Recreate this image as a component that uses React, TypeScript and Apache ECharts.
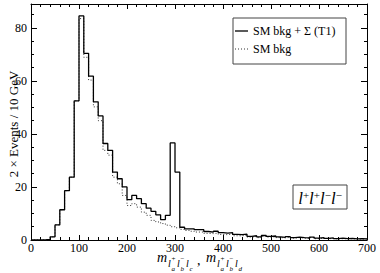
import React, { useEffect, useRef } from "react";
import * as echarts from "echarts";

const BIN_WIDTH = 10;
const X_MAX = 700;
const Y_MAX = 89;

// SM bkg + Σ (T1), bins of 10 GeV starting at 0
const sigPlusBkg = [
  0, 0, 0, 0.2, 1.2, 5.7, 11.4, 18.6, 23.7, 52.5,
  84.5, 70.4, 61.8, 52.1, 46.8, 36.4, 33.8, 25.6, 23.1, 20.0,
  15.2, 16.8, 15.6, 13.7, 12.0, 10.8, 9.5, 7.7, 9.3, 36.6,
  25.6, 4.8, 4.2, 4.2, 3.9, 3.9, 3.2, 3.0, 3.3, 2.8,
  2.6, 2.8, 2.1, 2.0, 2.2, 1.4, 1.6, 1.2, 1.7, 1.4,
  1.5, 1.2, 1.0, 1.3, 0.9, 1.1, 0.9, 0.8, 1.1, 0.7,
  0.9, 0.6, 0.8, 0.5, 0.7, 0.5, 0.6, 0.4, 0.5, 0.4,
];

// SM bkg only
const smBkg = [
  0, 0, 0, 0.2, 1.2, 5.7, 11.4, 18.6, 23.7, 52.5,
  83.5, 68.9, 60.3, 50.2, 45.0, 33.8, 32.0, 23.7, 21.2, 16.8,
  13.0, 13.7, 12.4, 10.5, 9.3, 7.4, 6.8, 6.2, 5.6, 5.0,
  4.6, 4.0, 3.6, 3.3, 3.0, 3.0, 2.5, 2.4, 2.6, 2.1,
  2.0, 2.2, 1.6, 1.6, 1.8, 1.1, 1.3, 0.9, 1.4, 1.1,
  1.2, 0.9, 0.8, 1.0, 0.7, 0.9, 0.7, 0.6, 0.9, 0.5,
  0.7, 0.5, 0.6, 0.4, 0.5, 0.4, 0.5, 0.3, 0.4, 0.3,
];

const seriesNames = ["SM bkg + Σ (T1)", "SM bkg"];
const yAxisTitle = "2 × Events / 10 GeV";

const FONT = "'Liberation Serif', 'DejaVu Serif', serif";

const SOLID_STYLE = { color: "#000", width: 1.3 };
const DOTTED_STYLE = { color: "#333", width: 1, type: [1, 2] as number[] };

function toSteps(values: number[]) {
  const pts: [number, number][] = values.map((v, i) => [i * BIN_WIDTH, v]);
  pts.push([values.length * BIN_WIDTH, values[values.length - 1]]);
  return pts;
}

export default function App() {
  const ref = useRef<HTMLDivElement>(null);
  useEffect(() => {
    document.body.style.margin = "0";
    const chart = echarts.init(ref.current!, null, { renderer: "svg" });

    const tickCommon = {
      axisLine: { show: true, onZero: false, lineStyle: { color: "#000", width: 1 } },
      splitLine: { show: false },
    };

    const it = (x: number, y: number, text: string, size: number, italic = true) => ({
      type: "text",
      x,
      y,
      silent: true,
      style: {
        text,
        font: `${italic ? "italic " : ""}${size}px ${FONT}`,
        fill: "#000",
        textAlign: "left",
        textVerticalAlign: "middle",
      },
    });

    // one "l" with optional super/subscript, used to build the x-axis title
    const lep = (x: number, sup: string | null, sub: string) => {
      const parts: any[] = [it(x, 263.5, "l", 10)];
      if (sup) parts.push(it(x + 3.6, 258.5, sup, 7, false));
      parts.push(it(x + 3.6, 269, sub, 7));
      return parts;
    };

    const option: any = {
      animation: false,
      backgroundColor: "#fff",
      grid: { left: 31, right: 13, top: 4, bottom: 33, containLabel: false },
      legend: { show: false },
      xAxis: [
        {
          type: "value",
          position: "bottom",
          min: 0,
          max: X_MAX,
          interval: 100,
          ...tickCommon,
          axisTick: { show: true, inside: true, length: 5, lineStyle: { color: "#000" } },
          minorTick: { show: true, splitNumber: 5, length: 3, lineStyle: { color: "#000" } },
          axisLabel: { color: "#000", fontFamily: FONT, fontSize: 12, margin: 2 },
        },
        {
          type: "value",
          position: "top",
          min: 0,
          max: X_MAX,
          interval: 100,
          ...tickCommon,
          axisTick: { show: true, inside: true, length: 5, lineStyle: { color: "#000" } },
          minorTick: { show: true, splitNumber: 5, length: 3, lineStyle: { color: "#000" } },
          axisLabel: { show: false },
        },
      ],
      yAxis: [
        {
          type: "value",
          position: "left",
          min: 0,
          max: Y_MAX,
          interval: 20,
          ...tickCommon,
          axisTick: { show: true, inside: true, length: 6, lineStyle: { color: "#000" } },
          minorTick: { show: true, splitNumber: 4, length: 3, lineStyle: { color: "#000" } },
          axisLabel: { color: "#000", fontFamily: FONT, fontSize: 12, margin: 4, showMaxLabel: false },
        },
        {
          type: "value",
          position: "right",
          min: 0,
          max: Y_MAX,
          interval: 20,
          ...tickCommon,
          axisTick: { show: true, inside: true, length: 6, lineStyle: { color: "#000" } },
          minorTick: { show: true, splitNumber: 4, length: 3, lineStyle: { color: "#000" } },
          axisLabel: { show: false },
        },
      ],
      series: [
        {
          name: seriesNames[1],
          type: "line",
          step: "end",
          xAxisIndex: 0,
          yAxisIndex: 0,
          data: toSteps(smBkg),
          symbol: "none",
          showSymbol: false,
          lineStyle: DOTTED_STYLE,
          z: 2,
        },
        {
          name: seriesNames[0],
          type: "line",
          step: "end",
          xAxisIndex: 0,
          yAxisIndex: 0,
          data: toSteps(sigPlusBkg),
          symbol: "none",
          showSymbol: false,
          lineStyle: SOLID_STYLE,
          z: 3,
        },
      ],
      graphic: [
        {
          type: "text",
          x: 13,
          y: 124,
          rotation: Math.PI / 2,
          silent: true,
          style: {
            text: yAxisTitle,
            font: `13px ${FONT}`,
            fill: "#000",
            textAlign: "center",
            textVerticalAlign: "middle",
          },
        },
        // legend
        {
          type: "rect",
          shape: { x: 233, y: 18, width: 113, height: 46 },
          style: { fill: "#fff", stroke: "#444", lineWidth: 1 },
          z: 10,
        },
        {
          type: "line",
          shape: { x1: 235, y1: 31, x2: 248, y2: 31 },
          style: { stroke: SOLID_STYLE.color, lineWidth: SOLID_STYLE.width },
          z: 11,
        },
        {
          type: "line",
          shape: { x1: 235, y1: 49, x2: 248, y2: 49 },
          style: { stroke: DOTTED_STYLE.color, lineWidth: DOTTED_STYLE.width, lineDash: DOTTED_STYLE.type },
          z: 11,
        },
        {
          type: "text",
          x: 253,
          y: 31,
          z: 11,
          silent: true,
          style: { text: seriesNames[0], font: `12px ${FONT}`, fill: "#000", textAlign: "left", textVerticalAlign: "middle" },
        },
        {
          type: "text",
          x: 253,
          y: 49,
          z: 11,
          silent: true,
          style: { text: seriesNames[1], font: `12px ${FONT}`, fill: "#000", textAlign: "left", textVerticalAlign: "middle" },
        },
        // channel label box
        {
          type: "rect",
          shape: { x: 293, y: 185, width: 54, height: 24 },
          style: { fill: "#fff", stroke: "#444", lineWidth: 1 },
          z: 10,
        },
        {
          type: "text",
          x: 320,
          y: 198,
          z: 11,
          silent: true,
          style: {
            text: "{l|l}{s|+}{l|l}{s|+}{l|l}{s|−}{l|l}{s|−}",
            textAlign: "center",
            textVerticalAlign: "middle",
            fill: "#000",
            rich: {
              l: { font: `italic 17px ${FONT}`, lineHeight: 18, fill: "#000" },
              s: { font: `11px ${FONT}`, lineHeight: 11, verticalAlign: "top", fill: "#000" },
            },
          },
        },
        // x-axis title: m_{l_a^+ l_b^- l_c} , m_{l_a^+ l_b^- l_d}
        it(157, 257.5, "m", 14),
        ...lep(168, "+", "a"),
        ...lep(177, "−", "b"),
        ...lep(186, null, "c"),
        it(197, 260.5, ",", 14, false),
        it(206, 257.5, "m", 14),
        ...lep(217, "+", "a"),
        ...lep(226, "−", "b"),
        ...lep(235, null, "d"),
      ],
    };

    chart.setOption(option);
    return () => chart.dispose();
  }, []);

  return (
    <div
      ref={ref}
      style={{ position: "absolute", left: 0, top: 0, width: 380, height: 273 }}
    />
  );
}
